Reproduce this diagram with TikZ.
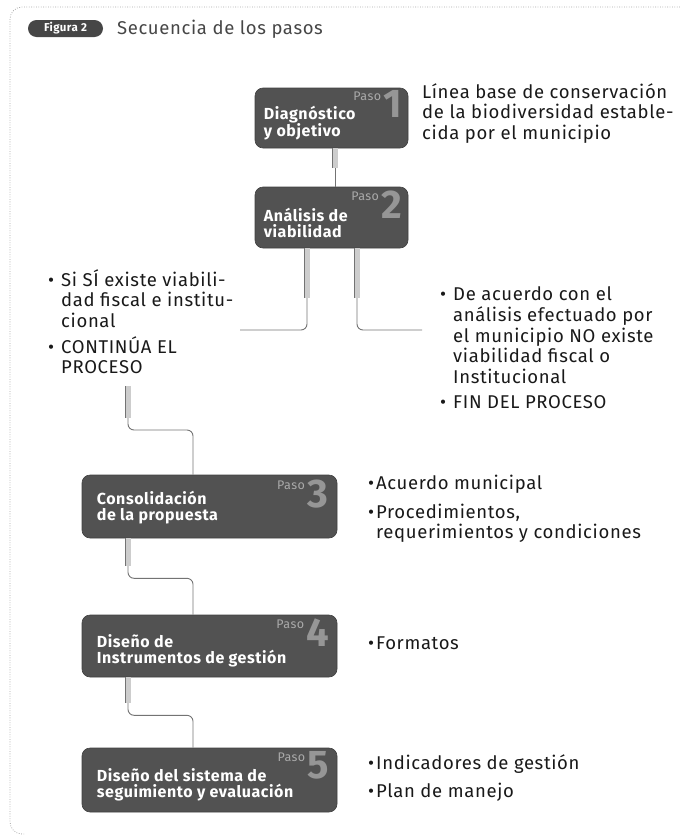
\documentclass[tikz,border=0pt]{standalone}
\usepackage{fontspec}
\setmainfont[LetterSpace=3.5]{Fira Sans}
\definecolor{boxgray}{RGB}{82,82,82}
\definecolor{numgray}{RGB}{150,150,150}
\definecolor{pasogray}{RGB}{170,170,170}
\definecolor{txt}{RGB}{25,25,25}
\definecolor{titlegray}{RGB}{70,70,70}
\definecolor{linegray}{RGB}{115,115,115}
\definecolor{stubfill}{RGB}{205,205,205}
\begin{document}
\begin{tikzpicture}[x=1pt,y=-1pt,
  stepbox/.style={fill=boxgray, draw=black!75, line width=0.6pt, rounded corners=8pt, inner sep=0pt},
  boxtext/.style={anchor=west, text=white, font=\fontsize{16}{16}\selectfont\bfseries, align=left, inner sep=0pt},
  numtext/.style={anchor=north east, text=numgray, font=\fontsize{40}{40}\selectfont\bfseries, inner sep=0pt},
  pasotext/.style={anchor=base east, text=pasogray, font=\fontsize{12.5}{12.5}\selectfont, inner sep=0pt},
  bodytext/.style={anchor=north west, text=txt, font=\fontsize{18.5}{20.5}\selectfont, inner sep=0pt, align=left},
  conn/.style={draw=linegray, line width=0.9pt, rounded corners=6pt},
  stubbar/.style={draw=linegray, line width=0.5pt, double=stubfill, double distance=5pt},
  outerframe/.style={draw=gray!70, line width=0.8pt, dash pattern=on 0.8pt off 1.6pt, rounded corners=12pt},
  pill/.style={fill=boxgray!85!black, rounded corners=8.5pt, minimum width=75pt, minimum height=17pt, text=white, font=\fontsize{11.5}{11.5}\selectfont\bfseries, inner sep=0pt}
]
\useasboundingbox (0,0) rectangle (680,838);
% outer frame
\draw[outerframe] (680,7) -- (10,7) -- (10,834) -- (24,834);

% header
\node[pill] (fig) at (65.5,28.5) {Figura 2};
\node[anchor=west, text=titlegray, font=\fontsize{18.5}{20}\selectfont, inner sep=0pt] (title) at (117,29) {Secuencia de los pasos};

% boxes
\node[stepbox, minimum width=153pt, minimum height=60pt] (b1) at (331.5,118) {};
\node[stepbox, minimum width=153pt, minimum height=61pt] (b2) at (331.5,217.5) {};
\node[stepbox, minimum width=255pt, minimum height=63pt] (b3) at (209.5,506.5) {};
\node[stepbox, minimum width=255pt, minimum height=62pt] (b4) at (209.5,646) {};
\node[stepbox, minimum width=255pt, minimum height=64pt] (b5) at (209.5,780) {};

% box texts
\node[boxtext] (t1) at ([xshift=9pt,yshift=-5pt]b1.west) {Diagnóstico\\y objetivo};
\node[boxtext] (t2) at ([xshift=9pt,yshift=-5pt]b2.west) {Análisis de\\viabilidad};
\node[boxtext] (t3) at ([xshift=15pt,yshift=-1pt]b3.west) {Consolidación\\de la propuesta};
\node[boxtext] (t4) at ([xshift=15pt,yshift=-5pt]b4.west) {Diseño de\\Instrumentos de gestión};
\node[boxtext] (t5) at ([xshift=15pt,yshift=-5pt]b5.west) {Diseño del sistema de\\seguimiento y evaluación};

% step numbers
\node[numtext] (n1) at ([xshift=-6pt,yshift=-3pt]b1.north east) {1};
\node[numtext] (n2) at ([xshift=-6pt,yshift=-4pt]b2.north east) {2};
\node[numtext] (n3) at ([xshift=-9pt,yshift=-5pt]b3.north east) {3};
\node[numtext] (n4) at ([xshift=-8pt,yshift=-4pt]b4.north east) {4};
\node[numtext] (n5) at ([xshift=-8pt,yshift=-4pt]b5.north east) {5};
\node[pasotext] (p1) at ([xshift=-2pt,yshift=-10pt]n1.north west) {Paso};
\node[pasotext] (p2) at ([xshift=-2pt,yshift=-10pt]n2.north west) {Paso};
\node[pasotext] (p3) at ([xshift=-2pt,yshift=-10pt]n3.north west) {Paso};
\node[pasotext] (p4) at ([xshift=-2pt,yshift=-10pt]n4.north west) {Paso};
\node[pasotext] (p5) at ([xshift=-2pt,yshift=-10pt]n5.north west) {Paso};

% side texts
\node[bodytext] (r1) at (422,83) {Línea base de conservación\\de la biodiversidad estable-\\cida por el municipio};
\node[bodytext] (lt) at (48,269) {\begin{tabular}{@{}l@{\hspace{7pt}}l@{}}
  •&Si SÍ existe viabili-\\
   &dad fiscal e institu-\\
   &cional\\[3pt]
  •&CONTINÚA EL\\
   &PROCESO
  \end{tabular}};
\node[bodytext] (r2) at (440,286) {\begin{tabular}{@{}l@{\hspace{7pt}}l@{}}
  •&De acuerdo con el\\
   &análisis efectuado por\\
   &el municipio NO existe\\
   &viabilidad fiscal o\\
   &Institucional\\[5pt]
  •&FIN DEL PROCESO
  \end{tabular}};
\node[bodytext] (r3) at (368,475) {\begin{tabular}{@{}l@{\hspace{2pt}}l@{}}
  •&Acuerdo municipal\\[8pt]
  •&Procedimientos,\\
   &requerimientos y condiciones
  \end{tabular}};
\node[bodytext] (r4) at (368,635) {\begin{tabular}{@{}l@{\hspace{2pt}}l@{}}
  •&Formatos
  \end{tabular}};
\node[bodytext] (r5) at (368,754) {\begin{tabular}{@{}l@{\hspace{2pt}}l@{}}
  •&Indicadores de gestión\\[8pt]
  •&Plan de manejo
  \end{tabular}};

% free ends of connectors
\coordinate (eL) at (240,330);
\coordinate (eR) at (422,330);
\coordinate (cT) at (128,386);

% connectors
\draw[conn] ([xshift=3.5pt]b1.south) -- ([xshift=3.5pt]b2.north);
\draw[stubbar] ([xshift=3.5pt]b1.south) -- ++(0,20);

\draw[conn] ([xshift=-24.5pt]b2.south) |- (eL);
\draw[stubbar] ([xshift=-24.5pt]b2.south) -- ++(0,50);
\draw[conn] ([xshift=25.5pt]b2.south) |- (eR);
\draw[stubbar] ([xshift=25.5pt]b2.south) -- ++(0,50);

\draw[conn] (cT) -- ++(0,44) -| ([xshift=-16.5pt]b3.north);
\draw[stubbar] (cT) -- ++(0,32);

\draw[conn] ([xshift=-81.5pt]b3.south) -- ++(0,40) -| ([xshift=-16.5pt]b4.north);
\draw[stubbar] ([xshift=-81.5pt]b3.south) -- ++(0,28);

\draw[conn] ([xshift=-81.5pt]b4.south) -- ++(0,38) -| ([xshift=-16.5pt]b5.north);
\draw[stubbar] ([xshift=-81.5pt]b4.south) -- ++(0,26);
\end{tikzpicture}
\end{document}
